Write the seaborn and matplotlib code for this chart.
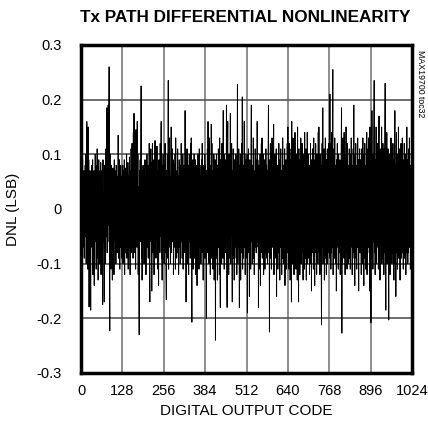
import numpy as np
import pandas as pd
import matplotlib

matplotlib.use("Agg")
import matplotlib.pyplot as plt
import seaborn as sns

# DNL per codice, in milli-LSB (32 codici per riga)
dnl_milli = [
    30, -60, 50, -80, 10, 90, -70, 40, -30, 70, -90, 60, -20, 80, -50, 100, -100, 30, 160, -60, 40, -110, 150, -40, 90, -179, 60, -20, 70, -80, -185, 50,
    -40, 80, -70, 20, 90, -120, 60, -30, 70, -140, 50, -60, 100, -20, 80, -110, 40, -90, 110, -50, 60, -130, 30, 90, -70, 40, -100, 70, -40, 85, -120, 60,
    -80, 70, 40, -175, 90, -60, 30, -90, -170, 80, -40, 60, -100, 110, -50, 70, 185, -80, 40, -60, 190, -30, 120, 260, -90, -223, 100, -70, 50, -110, 80, -40,
    60, -130, 30, 75, -90, 50, -120, 90, -30, 70, -60, 40, -100, 80, -20, 60, -80, 30, -50, 135, -90, 70, -40, 90, -110, 50, -70, 80, -30, 60, -90, 40,
    -60, 80, -100, 40, 70, -50, 90, -120, 30, 60, -80, 75, -40, 100, -90, 50, -30, 85, -110, 60, -70, 40, 95, -60, -120, 70, -40, 110, -80, 50, 120, -70,
    60, -90, 140, -50, 175, -80, 60, -40, 90, -110, 145, -60, 80, -70, 160, -50, 100, -120, 40, -80, -230, 70, -40, 90, -60, 110, 225, -90, 50, -130, 70, -40,
    80, -60, 40, -100, 70, -30, 90, -80, 50, -120, 60, -40, 100, -70, 30, 80, -90, 60, -50, 120, -100, -170, 70, -40, 110, -60, 85, -150, 40, 120, -80, 60,
    -50, 90, -120, 60, -40, 125, -70, 30, -90, 80, -60, 115, -30, 70, -110, 50, -140, 90, -60, 40, -80, 120, -50, 70, 160, -90, 60, -130, 80, -40, 100, -70,
    50, -100, 80, -60, 120, -80, 40, -120, -166, 70, -40, 100, -90, 60, 235, -110, 90, -50, 130, -70, 60, -100, 40, 150, -80, 70, -40, 110, -60, 90, -120, 50,
    -70, 80, -40, 100, -110, 130, -60, 50, -90, 70, -30, 110, -80, 60, -120, 40, 90, -70, 50, -100, 80, -40, 120, -60, 70, -90, 30, 100, -110, 60, -50, 80,
    60, -80, 180, -60, 90, -170, 70, -40, 110, -100, 50, -70, 80, -120, 40, 100, -60, 70, -90, 120, -50, 130, -80, -207, 60, -40, 90, -110, 70, -60, 100, -90,
    50, -70, 90, -120, 60, -40, 80, -140, 70, -60, 100, -90, 40, -110, 110, -50, 80, -70, 60, -100, 30, 90, -80, 120, -60, 50, -130, 80, -40, 70, -90, 100,
    -60, 80, -90, 50, -200, 70, -40, 110, -80, 160, -50, 90, -100, 130, -70, 60, -120, 80, -40, 155, -90, 120, -60, 70, -110, 50, -80, 100, -130, 60, -50, 90,
    -240, 70, -60, 100, -90, 60, -130, 80, -40, 110, -70, 50, -120, 130, -80, -180, 90, -60, 70, -100, 120, -50, 80, -90, 180, -70, 60, -110, 100, -40, 90, -80,
    70, -60, 190, -80, -180, 90, 160, -70, 50, -120, 100, -60, 80, -90, 175, -100, 60, -50, 120, -80, -170, 70, -40, 110, -90, 60, -130, 90, -70, 80, -60, 100,
    -90, 70, -120, 90, 228, -100, 60, -70, 110, -60, -180, 80, -50, 100, -130, 70, -80, 120, -40, 205, -110, 60, -90, 80, -60, 160, -70, 100, -120, 50, -80, 90,
    60, -90, 100, -190, 70, -50, 110, -80, 60, -160, 90, -70, 50, -110, 120, 190, -60, 80, -100, 60, -40, 130, -90, 70, -120, 50, -70, 110, -60, 90, -80, 60,
    -70, 160, -60, 90, 50, -180, 80, -110, 70, -60, 100, -140, 60, -80, 120, -50, 130, -90, 70, -40, 100, -120, 60, -70, 90, -110, 50, -80, 110, -60, 80, -90,
    70, -100, 60, 110, 190, -80, 50, -225, 90, -60, 120, -90, 70, -110, 50, 130, -70, 100, -60, 80, 155, -120, 60, -80, 100, -50, 70, -90, 110, -160, 60, -70,
    80, -110, 60, -60, 120, -80, 50, -130, 90, -70, 110, -50, 70, -120, 60, -90, 130, -60, 80, -100, 50, -70, 110, -140, 70, -50, 90, -110, 60, -80, 120, -60,
    150, -80, 70, -110, 120, -60, 90, -130, 60, -50, 110, -170, 160, -70, 80, -100, 130, -60, 70, -120, 90, -50, 140, -80, 60, -110, 100, -70, 80, -130, 150, -60,
    80, -170, 110, -60, 70, -120, 90, -50, 130, -100, 60, -80, 120, -70, 50, -130, 100, -60, 80, -110, 140, -50, 70, -90, 110, -130, 60, -70, 140, -100, 80, -60,
    100, -90, 60, -120, 80, -60, 120, -100, 50, -150, 90, -70, 110, -80, 60, -110, 130, -60, 70, -140, 90, -50, 120, -80, 60, -120, 100, -70, 80, -100, 140, -60,
    150, -80, 70, -120, 100, -60, 80, -90, -212, 60, 120, -70, 185, -100, 80, -60, 110, -130, 70, -50, 130, -90, 60, -120, 90, -70, 110, -100, 50, -80, 120, -60,
    80, -90, 210, -60, 120, -110, 60, -80, 140, -70, 100, 255, -120, 70, -60, 110, -90, 130, -50, 80, -100, 60, -150, 90, -70, 120, -60, 80, -110, 100, -80, 70,
    -60, 90, -120, 70, -80, 110, 185, -227, 80, -100, 130, -60, 70, -90, 140, -50, 100, -120, 60, -80, 150, -70, 90, -110, 120, -60, 80, -100, 70, -50, 110, -90,
    60, -110, 100, -70, 130, -50, 80, -120, 60, -90, 110, -60, 190, -80, 70, -140, 100, -60, 120, -90, 50, -110, 80, -70, 130, -60, 90, -150, 70, -80, 110, -50,
    90, -80, 60, -120, 110, -60, 80, -100, 130, -70, 50, -140, 100, -60, 120, -90, 70, -110, 80, -50, 140, -120, 60, -80, 110, -70, 130, -60, 90, -150, 150, -80,
    70, -208, 120, -70, 180, -90, 60, -110, 100, -60, 130, 235, -80, 70, -120, 90, -60, 150, -100, 80, -70, 120, -50, 60, -110, 100, 170, -80, 60, -130, 110, -70,
    90, -60, 150, -100, 80, -70, 120, -90, 60, -120, 110, -80, 130, 230, -60, -185, 90, -70, 140, -100, 60, -80, 110, -60, -203, 100, -90, 70, -120, 80, -60, 130,
    -70, 110, -100, 60, -80, 120, -60, 90, -130, 70, -50, 180, -100, 80, -160, 60, 140, -80, 70, -110, 100, -60, 150, -90, 60, -70, 110, -130, 80, -60, 120, -90,
    70, -80, 130, -60, 90, -110, 60, -70, 120, -90, 80, -50, 100, -120, 60, -80, 150, -70, 90, -100, 60, -80, 110, -60, 130, -70, 80, -110, 60, -90, 100, 50,
]
codici = list(range(len(dnl_milli)))
x_ticks = [0, 128, 256, 384, 512, 640, 768, 896, 1024]
y_ticks = [-0.3, -0.2, -0.1, 0, 0.1, 0.2, 0.3]
y_labels = ["-0.3", "-0.2", "-0.1", "0", "0.1", "0.2", "0.3"]

df = pd.DataFrame({"code": codici, "dnl": np.array(dnl_milli) / 1000.0})

sns.set_theme(style="white")
plt.rcParams["font.family"] = ["Liberation Sans", "DejaVu Sans"]
plt.rcParams["text.color"] = "black"
plt.rcParams["axes.labelcolor"] = "black"

fig = plt.figure(figsize=(4.28, 4.34), dpi=100)
ax = fig.add_axes([81 / 428, 61 / 434, 331 / 428, 328 / 434])

for xv in x_ticks[1:-1]:
    ax.axvline(xv, color="#7a7a7a", lw=1.2, zorder=1)
for yv in [-0.2, -0.1, 0.1, 0.2]:
    ax.axhline(yv, color="#555555", lw=1.2, zorder=1)

sns.lineplot(data=df, x="code", y="dnl", color="black", lw=0.7, ax=ax, zorder=2)

ax.set_xlim(0, 1024)
ax.set_ylim(-0.3, 0.3)
ax.set_xticks(x_ticks)
ax.set_yticks(y_ticks)
ax.set_yticklabels(y_labels)
ax.tick_params(axis="both", length=0, labelsize=10.5, colors="black")
ax.tick_params(axis="y", pad=14)
ax.tick_params(axis="x", pad=8)
ax.set_xlabel("DIGITAL OUTPUT CODE", fontsize=11, labelpad=4)
ax.set_ylabel("DNL (LSB)", fontsize=11, labelpad=12)
for s in ax.spines.values():
    s.set_visible(True)
    s.set_color("black")
    s.set_linewidth(2.5)

fig.text(245 / 428, 1 - 17 / 434, "Tx PATH DIFFERENTIAL NONLINEARITY", ha="center", va="center",
         fontsize=12.3, weight="bold")
fig.text(420 / 428, 1 - 84 / 434, "MAX19700 toc32", rotation=-90, ha="center", va="center",
         fontsize=6.3)

fig.savefig("out.png", dpi=100)
